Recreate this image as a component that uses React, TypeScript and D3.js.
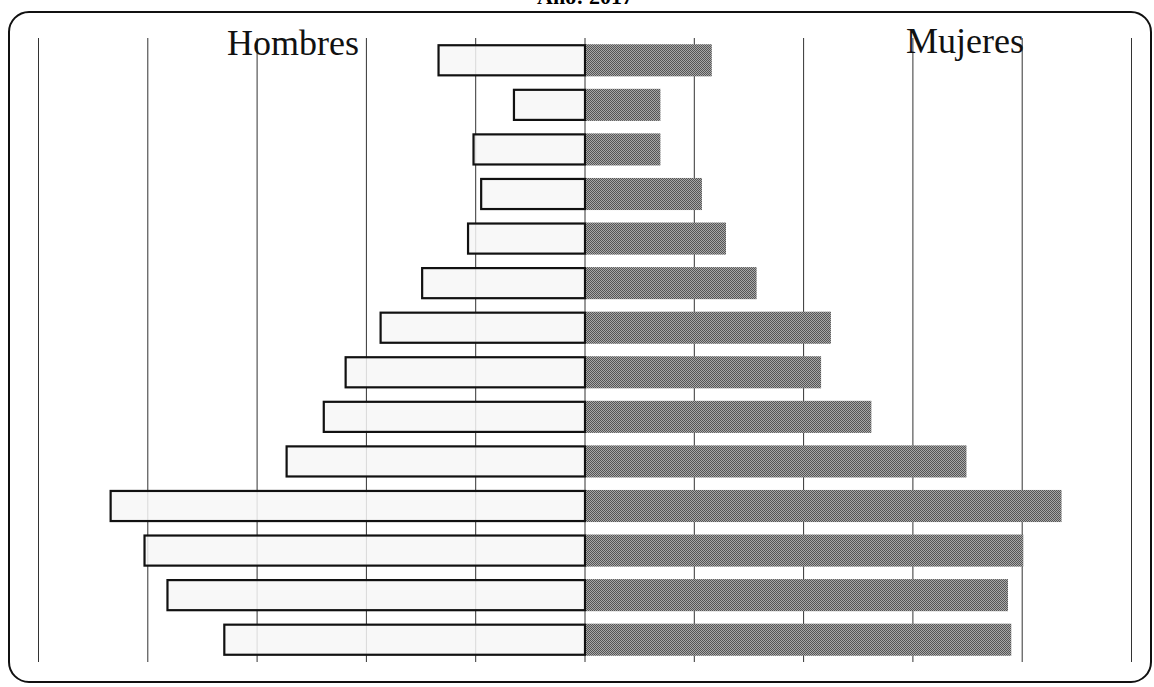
import React, { useEffect, useRef } from 'react';
import * as d3 from 'd3';

// age groups, top (oldest) to bottom (youngest)
const ageGroups: string[] = [
  '65+', '60-64', '55-59', '50-54', '45-49', '40-44', '35-39',
  '30-34', '25-29', '20-24', '15-19', '10-14', '5-9', '0-4',
];
// share of population (grid step = 1)
const hombres: number[] = [1.34, 0.65, 1.02, 0.95, 1.07, 1.49, 1.87, 2.19, 2.39, 2.73, 4.34, 4.03, 3.82, 3.3];
const mujeres: number[] = [1.16, 0.69, 0.69, 1.07, 1.29, 1.57, 2.25, 2.16, 2.62, 3.49, 4.36, 4.01, 3.87, 3.9];
const gridTicks: number[] = [-5, -4, -3, -2, -1, 0, 1, 2, 3, 4, 5];
const title = 'Año: 2017';
const leftLabel = 'Hombres';
const rightLabel = 'Mujeres';

const App: React.FC = () => {
  const containerRef = useRef<HTMLDivElement | null>(null);

  useEffect(() => {
    if (!containerRef.current) return;
    containerRef.current.innerHTML = '';

    const width = 1154;
    const height = 687;
    const serif = '"Liberation Serif", "Times New Roman", serif';

    const x = d3.scaleLinear().domain([-5, 5]).range([38.5, 1131.5]);
    const y = d3.scaleBand<string>().domain(ageGroups).range([38, 662]).paddingInner(0.28).paddingOuter(0.14);

    const svg = d3
      .select(containerRef.current)
      .append('svg')
      .attr('width', width)
      .attr('height', height)
      .style('position', 'absolute')
      .style('left', '0px')
      .style('top', '0px')
      .style('background', '#fff');

    // halftone pattern for the women's bars
    const pat = svg
      .append('defs')
      .append('pattern')
      .attr('id', 'halftone')
      .attr('width', 2)
      .attr('height', 2)
      .attr('patternUnits', 'userSpaceOnUse');
    pat.append('rect').attr('width', 2).attr('height', 2).attr('fill', '#a8a8a8');
    pat.append('rect').attr('width', 1).attr('height', 1).attr('fill', '#555');
    pat.append('rect').attr('x', 1).attr('y', 1).attr('width', 1).attr('height', 1).attr('fill', '#555');

    // frame
    svg
      .append('rect')
      .attr('x', 9)
      .attr('y', 12)
      .attr('width', 1142)
      .attr('height', 670)
      .attr('rx', 20)
      .attr('fill', 'none')
      .attr('stroke', '#111')
      .attr('stroke-width', 2);

    // title, cut off at the top
    svg
      .append('text')
      .attr('x', 585)
      .attr('y', 4)
      .attr('text-anchor', 'middle')
      .attr('font-family', serif)
      .attr('font-weight', 'bold')
      .attr('font-size', 22)
      .text(title);

    // vertical grid lines
    svg
      .append('g')
      .selectAll('line')
      .data(gridTicks)
      .join('line')
      .attr('x1', (d) => x(d))
      .attr('x2', (d) => x(d))
      .attr('y1', 38)
      .attr('y2', 662)
      .attr('stroke', '#333')
      .attr('stroke-width', 1);

    // men bars (left)
    svg
      .append('g')
      .selectAll('rect')
      .data(hombres)
      .join('rect')
      .attr('x', (d) => x(-d))
      .attr('y', (_, i) => (y(ageGroups[i]) as number) + 1)
      .attr('width', (d) => x(0) - x(-d))
      .attr('height', y.bandwidth() - 2)
      .attr('fill', '#f7f7f7')
      .attr('fill-opacity', 0.85)
      .attr('stroke', '#111')
      .attr('stroke-width', 2.2);

    // women bars (right)
    svg
      .append('g')
      .selectAll('rect')
      .data(mujeres)
      .join('rect')
      .attr('x', x(0) + 1)
      .attr('y', (_, i) => y(ageGroups[i]) as number)
      .attr('width', (d) => x(d) - x(0) - 1)
      .attr('height', y.bandwidth())
      .attr('fill', 'url(#halftone)');

    // side labels
    svg
      .append('text')
      .attr('x', 227)
      .attr('y', 55)
      .attr('font-family', serif)
      .attr('font-size', 36)
      .attr('fill', '#111')
      .text(leftLabel);
    svg
      .append('text')
      .attr('x', 906)
      .attr('y', 53)
      .attr('font-family', serif)
      .attr('font-size', 36)
      .attr('fill', '#111')
      .text(rightLabel);
  }, []);

  return <div ref={containerRef} id="pyramid-container" />;
};

export default App;
